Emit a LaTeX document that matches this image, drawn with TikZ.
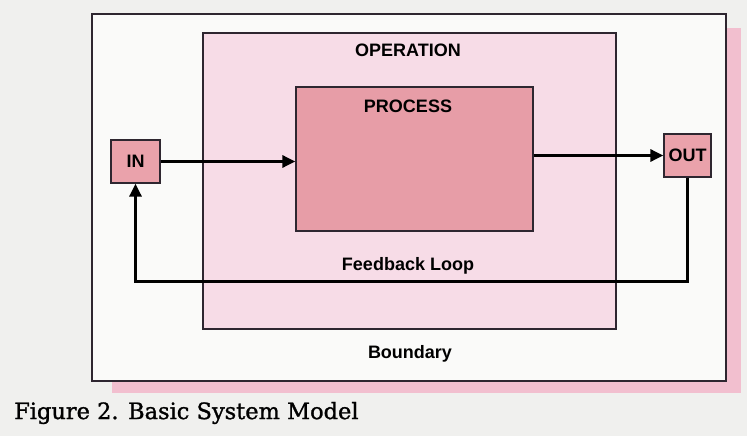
\documentclass[tikz,border=0pt]{standalone}
\usepackage{fontspec}
\setmainfont{Liberation Sans}
\newfontfamily\capfont[FakeBold=1.2]{DejaVu Serif}
\usetikzlibrary{arrows.meta}
\definecolor{bgcol}{HTML}{F0F0EE}
\definecolor{bndfill}{HTML}{FAFAF9}
\definecolor{shadowpink}{HTML}{F2BFCF}
\definecolor{opfill}{HTML}{F7DCE7}
\definecolor{procfill}{HTML}{E79DA7}
\definecolor{iofill}{HTML}{EAA2AB}
\definecolor{edge}{HTML}{2E2630}
\begin{document}
\begin{tikzpicture}[x=1pt,y=-1pt,
  box/.style={draw=edge, inner sep=0pt, rectangle},
  lbl/.style={font=\bfseries\fontsize{18}{20}\selectfont, inner sep=0pt, text=black},
  arr/.style={draw=black, line width=3pt, -{Triangle[length=13pt,width=12pt]}}]
\fill[bgcol] (0,0) rectangle (747,436);
\useasboundingbox (0,0) rectangle (747,436);
\fill[shadowpink] (112,28) rectangle (741,393);
\node[box, line width=1.2pt, fill=bndfill, minimum width=634pt, minimum height=367pt] (boundary) at (409,197.5) {};
\node[box, line width=1.5pt, fill=opfill, minimum width=413pt, minimum height=296pt] (operation) at (409.5,181) {};
\node[box, line width=1.3pt, fill=procfill, minimum width=237pt, minimum height=144pt] (process) at (414.5,159) {};
\node[box, line width=1.3pt, fill=iofill, minimum width=49pt, minimum height=43pt, lbl] (in) at (135.5,161.5) {IN};
\node[box, line width=1.3pt, fill=iofill, minimum width=47pt, minimum height=43pt, lbl] (out) at (687.5,155.5) {OUT};
\node[lbl] (optext) at (408,50) {OPERATION};
\node[lbl] (proctext) at (408,106) {PROCESS};
\node[lbl] (fbtext) at (408,266) {Feedback Loop};
\node[lbl] (bndtext) at (410,354) {Boundary};
\coordinate (fb) at (400,281);
\draw[arr] (in.east) -- (in.east -| process.west);
\draw[arr] (process.east |- out.west) -- (out.west);
\draw[arr] (out.south) |- (fb) -| (in.south);
\node[anchor=west, inner sep=0pt, font=\capfont\fontsize{22.5}{26}\selectfont] (caption) at (14,413) {Figure 2. Basic System Model};
\end{tikzpicture}
\end{document}
